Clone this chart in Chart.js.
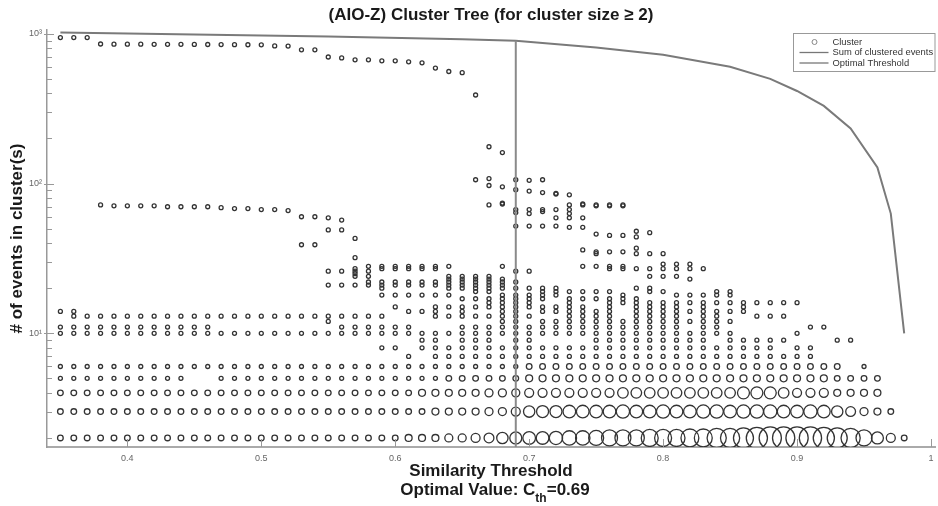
<!DOCTYPE html>
<html>
<head>
<meta charset="utf-8">
<title>Cluster Tree</title>
<script src="https://cdn.jsdelivr.net/npm/chart.js@4.4.1/dist/chart.umd.min.js"></script>
<style>
  html, body { margin: 0; padding: 0; background: #fff; }
  #box { width: 938px; height: 506px; }
</style>
</head>
<body>
<div id="box"><canvas id="treeChart"></canvas></div>
<script>
// similarity thresholds, one column of clusters each
const thresholds = [
  0.35, 0.36, 0.37, 0.38, 0.39, 0.40, 0.41, 0.42, 0.43, 0.44,
  0.45, 0.46, 0.47, 0.48, 0.49, 0.50, 0.51, 0.52, 0.53, 0.54,
  0.55, 0.56, 0.57, 0.58, 0.59, 0.60, 0.61, 0.62, 0.63, 0.64,
  0.65, 0.66, 0.67, 0.68, 0.69, 0.70, 0.71, 0.72, 0.73, 0.74,
  0.75, 0.76, 0.77, 0.78, 0.79, 0.80, 0.81, 0.82, 0.83, 0.84,
  0.85, 0.86, 0.87, 0.88, 0.89, 0.90, 0.91, 0.92, 0.93, 0.94,
  0.95, 0.96, 0.97, 0.98
];

// how many clusters of size 2..6 at each threshold (0 = none) -> marker size
const row2Count = [
  2, 2, 2, 2, 2, 2, 2, 2, 2, 2,
  2, 2, 2, 2, 2, 2, 2, 2, 2, 2,
  2, 2, 2, 2, 2, 2, 3, 3, 3, 4,
  4, 5, 6, 8, 9, 10, 10, 11, 13, 13,
  14, 16, 16, 16, 18, 18, 18, 20, 20, 23,
  23, 25, 28, 31, 31, 31, 31, 28, 25, 23,
  16, 9, 5, 2
];
const row3Count = [
  2, 2, 2, 2, 2, 2, 2, 2, 2, 2,
  2, 2, 2, 2, 2, 2, 2, 2, 2, 2,
  2, 2, 2, 2, 2, 2, 2, 2, 3, 3,
  3, 3, 4, 4, 5, 8, 9, 9, 10, 10,
  10, 10, 11, 10, 10, 11, 10, 10, 11, 11,
  10, 11, 11, 11, 10, 10, 11, 10, 8, 6,
  4, 3, 2, 0
];
const row4Count = [
  2, 2, 2, 2, 2, 2, 2, 2, 2, 2,
  2, 2, 2, 2, 2, 2, 2, 2, 2, 2,
  2, 2, 2, 2, 2, 2, 2, 3, 3, 3,
  3, 3, 4, 4, 4, 5, 5, 5, 5, 5,
  5, 5, 7, 7, 7, 7, 7, 7, 7, 7,
  7, 9, 9, 9, 7, 5, 5, 5, 3, 3,
  3, 3, 0, 0
];
const row5Count = [
  1, 1, 1, 1, 1, 1, 1, 1, 1, 1,
  0, 0, 1, 1, 1, 1, 1, 1, 1, 1,
  1, 1, 1, 1, 1, 1, 1, 1, 1, 2,
  2, 2, 2, 2, 2, 3, 3, 3, 3, 3,
  3, 3, 3, 3, 3, 3, 3, 3, 3, 3,
  3, 3, 3, 3, 3, 3, 3, 3, 2, 2,
  2, 2, 0, 0
];
const row6Count = [
  1, 1, 1, 1, 1, 1, 1, 1, 1, 1,
  1, 1, 1, 1, 1, 1, 1, 1, 1, 1,
  1, 1, 1, 1, 1, 1, 1, 1, 1, 1,
  1, 1, 1, 1, 1, 2, 2, 2, 2, 2,
  2, 2, 2, 2, 2, 2, 2, 2, 2, 2,
  2, 2, 2, 2, 2, 2, 2, 2, 2, 0,
  1, 0, 0, 0
];

// sizes of the bigger clusters (>= 7 events) at each threshold
const largerClusters = [
  [944, 14, 11, 10],
  [944, 14, 13, 11, 10],
  [944, 13, 11, 10],
  [855, 72, 13, 11, 10],
  [853, 71, 13, 11, 10],
  [853, 71, 13, 11, 10],
  [852, 71, 13, 11, 10],
  [851, 71, 13, 11, 10],
  [850, 70, 13, 11, 10],
  [850, 70, 13, 11, 10],
  [849, 70, 13, 11, 10],
  [848, 70, 13, 11, 10],
  [847, 69, 13, 10],
  [846, 68, 13, 10],
  [845, 68, 13, 10],
  [844, 67, 13, 10],
  [830, 67, 13, 10],
  [828, 66, 13, 10],
  [782, 60, 39, 13, 10],
  [782, 60, 39, 13, 10],
  [700, 59, 49, 26, 21, 13, 12, 10],
  [690, 57, 49, 26, 21, 13, 11, 10],
  [670, 43, 32, 27, 26, 25, 24, 21, 13, 11, 10],
  [670, 28, 26, 24, 22, 21, 13, 11, 10],
  [660, 28, 27, 22, 21, 20, 18, 13, 11, 10, 8],
  [660, 28, 27, 22, 21, 18, 15, 11, 10, 8],
  [650, 28, 27, 22, 21, 18, 14, 11, 10, 7],
  [640, 28, 27, 22, 21, 18, 14, 10, 9, 8],
  [590, 28, 27, 22, 21, 18, 15, 14, 13, 10, 9, 8, 7],
  [560, 28, 24, 23, 22, 21, 20, 18, 15, 13, 10, 8, 7],
  [550, 24, 23, 22, 21, 20, 17, 15, 14, 13, 11, 10, 9, 8, 7],
  [390, 106, 24, 23, 22, 21, 20, 19, 17, 15, 13, 11, 10, 9, 8, 7],
  [176, 108, 97, 72, 24, 23, 22, 21, 20, 19, 17, 16, 15, 13, 11, 10, 9, 8, 7],
  [161, 95, 74, 73, 28, 23, 22, 21, 20, 18, 17, 16, 15, 14, 13, 12, 11, 10, 8, 7],
  [106, 91, 67, 64, 52, 26, 22, 20, 18, 17, 16, 15, 14, 13, 12, 11, 10, 9, 8, 7],
  [105, 89, 67, 63, 52, 26, 20, 18, 17, 16, 15, 13, 11, 10, 9, 8, 7],
  [106, 87, 67, 65, 52, 20, 19, 18, 17, 15, 14, 12, 11, 10, 8, 7],
  [86, 85, 67, 59, 52, 20, 19, 18, 15, 14, 12, 11, 10, 8, 7],
  [84, 72, 67, 63, 59, 51, 19, 17, 16, 15, 14, 13, 12, 11, 10, 8, 7],
  [73, 72, 59, 51, 36, 28, 19, 17, 15, 14, 13, 12, 11, 10, 8, 7],
  [72, 71, 46, 35, 34, 28, 19, 17, 14, 13, 12, 11, 10, 9, 8, 7],
  [72, 71, 45, 35, 28, 27, 19, 17, 16, 15, 14, 13, 12, 11, 10, 9, 8, 7],
  [72, 71, 45, 35, 28, 27, 18, 17, 16, 12, 11, 10, 9, 8, 7],
  [48, 44, 37, 34, 27, 20, 17, 16, 15, 14, 13, 12, 11, 10, 9, 8, 7],
  [47, 34, 27, 24, 20, 19, 16, 15, 14, 13, 12, 11, 10, 9, 8, 7],
  [34, 29, 27, 24, 19, 16, 15, 14, 13, 12, 11, 10, 9, 8, 7],
  [29, 27, 24, 18, 16, 15, 14, 13, 12, 11, 10, 9, 8, 7],
  [29, 27, 23, 18, 16, 14, 12, 10, 9, 8, 7],
  [27, 18, 16, 15, 14, 13, 12, 11, 10, 9, 8, 7],
  [19, 18, 16, 14, 13, 12, 11, 10, 8, 7],
  [19, 18, 16, 14, 12, 10, 9, 8, 7],
  [16, 15, 14, 9, 8, 7],
  [16, 13, 9, 8, 7],
  [16, 13, 9, 8, 7],
  [16, 13, 9, 7],
  [16, 10, 8, 7],
  [11, 8, 7],
  [11],
  [9],
  [9],
  [], [], [], []
];

// total number of clustered events
const sumThresholds = [0.35, 0.45, 0.55, 0.65, 0.69, 0.75, 0.80, 0.85, 0.88, 0.90, 0.92, 0.94, 0.96, 0.97, 0.98];
const sumEvents = [1020, 990, 960, 920, 898, 810, 725, 603, 500, 415, 330, 233, 128, 63, 10];

const optimalThreshold = 0.69;
const xTicks = [0.4, 0.5, 0.6, 0.7, 0.8, 0.9, 1];
const yLabels = { 10: '10¹', 100: '10²', 1000: '10³' };
const yMin = 1.74, yMax = 1060;

const smallSizes = [2, 3, 4, 5, 6];
const smallCounts = [row2Count, row3Count, row4Count, row5Count, row6Count];

const clusterPoints = [];
thresholds.forEach((t, i) => {
  smallSizes.forEach((s, k) => {
    const n = smallCounts[k][i];
    if (n > 0) clusterPoints.push({ x: t, y: s, n: n });
  });
  largerClusters[i].forEach(s => clusterPoints.push({ x: t, y: s, n: 1 }));
});

const sumPoints = sumThresholds.map((t, i) => ({ x: t, y: sumEvents[i] }));
const optimalSum = sumEvents[sumThresholds.indexOf(optimalThreshold)];
const optimalPoints = [{ x: optimalThreshold, y: yMin }, { x: optimalThreshold, y: optimalSum }];

// ticks drawn inside the axes, matlab style
const inwardTicks = {
  id: 'inwardTicks',
  afterDraw(chart) {
    const c = chart.ctx, a = chart.chartArea;
    const xs = chart.scales.x, ys = chart.scales.y;
    c.save();
    c.strokeStyle = '#999';
    c.lineWidth = 1;
    c.beginPath();
    [1, 10, 100, 1000].forEach(d => {
      for (let k = 1; k <= 9; k++) {
        const v = k * d;
        if (v < yMin || v > yMax) continue;
        const y = Math.round(ys.getPixelForValue(v)) + 0.5;
        c.moveTo(k === 1 ? a.left - 3 : a.left, y);
        c.lineTo(a.left + (k === 1 ? 7 : 5), y);
      }
    });
    xTicks.forEach(v => {
      const x = Math.round(xs.getPixelForValue(v)) + 0.5;
      c.moveTo(x, a.bottom);
      c.lineTo(x, a.bottom - 8);
    });
    c.stroke();
    c.restore();
  }
};

// second line under the x axis title, with the subscript
const optimalNote = {
  id: 'optimalNote',
  afterDraw(chart) {
    const c = chart.ctx, a = chart.chartArea;
    const big = 'bold 17px Arial', small = 'bold 12px Arial';
    const p1 = 'Optimal Value: C', p2 = 'th', p3 = '=' + optimalThreshold.toFixed(2);
    c.save();
    c.fillStyle = '#1a1a1a';
    c.textBaseline = 'alphabetic';
    c.font = big; const w1 = c.measureText(p1).width, w3 = c.measureText(p3).width;
    c.font = small; const w2 = c.measureText(p2).width;
    let x = (a.left + a.right) / 2 + 4 - (w1 + w2 + w3) / 2;
    const y = 495;
    c.font = big; c.fillText(p1, x, y); x += w1;
    c.font = small; c.fillText(p2, x, y + 7); x += w2;
    c.font = big; c.fillText(p3, x, y);
    c.restore();
  }
};

// boxed legend in the upper right corner of the plot
const boxLegend = {
  id: 'boxLegend',
  afterDraw(chart) {
    const c = chart.ctx, a = chart.chartArea;
    const ds = chart.data.datasets;
    const left = 793.5, top = 33.5, w = a.right - left, h = 38;
    c.save();
    c.fillStyle = '#fff';
    c.fillRect(left, top, w, h);
    c.strokeStyle = '#999';
    c.lineWidth = 1;
    c.strokeRect(left, top, w, h);
    c.font = '9.4px Arial';
    c.textBaseline = 'middle';
    ds.forEach((d, i) => {
      const y = top + 8.5 + i * 10.5;
      if (i === 0) {
        c.beginPath();
        c.arc(left + 21, y, 2.5, 0, Math.PI * 2);
        c.strokeStyle = '#888';
        c.stroke();
      } else {
        c.beginPath();
        c.moveTo(left + 6, y);
        c.lineTo(left + 35, y);
        c.strokeStyle = '#777';
        c.lineWidth = 1.3;
        c.stroke();
      }
      c.fillStyle = '#333';
      c.fillText(d.label, left + 39, y);
    });
    c.restore();
  }
};

new Chart(document.getElementById('treeChart'), {
  type: 'scatter',
  data: {
    datasets: [
      {
        label: 'Cluster',
        data: clusterPoints,
        backgroundColor: 'rgba(0,0,0,0)',
        borderColor: '#333',
        borderWidth: 1.3,
        pointRadius: ctx => 2 * Math.sqrt(ctx.raw ? ctx.raw.n : 1),
        order: 3
      },
      {
        label: 'Sum of clustered events',
        data: sumPoints,
        showLine: true,
        borderColor: '#7a7a7a',
        borderWidth: 2,
        pointRadius: 0,
        order: 2
      },
      {
        label: 'Optimal Threshold',
        data: optimalPoints,
        showLine: true,
        borderColor: '#8a8a8a',
        borderWidth: 2,
        pointRadius: 0,
        order: 1
      }
    ]
  },
  options: {
    responsive: true,
    maintainAspectRatio: false,
    animation: false,
    layout: { autoPadding: false, padding: { left: 0, right: 3, top: 0, bottom: 0 } },
    plugins: {
      legend: { display: false },
      tooltip: { enabled: false },
      title: {
        display: true,
        fullSize: false,
        text: '(AIO-Z) Cluster Tree (for cluster size \u2265 2)',
        color: '#1a1a1a',
        font: { family: 'Arial', size: 17, weight: 'bold' },
        padding: { top: 5, bottom: 4.6 }
      }
    },
    scales: {
      x: {
        type: 'linear',
        min: 0.34,
        max: 1.003,
        afterBuildTicks: s => { s.ticks = xTicks.map(v => ({ value: v })); },
        afterFit: s => { s.height = 59; s.paddingLeft = 0; s.paddingRight = 0; },
        grid: { display: false, drawTicks: false },
        border: { color: '#aaa', width: 2 },
        ticks: {
          padding: 6,
          color: '#666',
          font: { family: 'Arial', size: 9 },
          callback: v => (v === 1 ? '1' : v.toFixed(1))
        },
        title: {
          display: true,
          text: 'Similarity Threshold',
          color: '#1a1a1a',
          font: { family: 'Arial', size: 17, weight: 'bold' },
          padding: { top: 0, bottom: 24 }
        }
      },
      y: {
        type: 'logarithmic',
        min: yMin,
        max: yMax,
        afterBuildTicks: s => { s.ticks = Object.keys(yLabels).map(v => ({ value: +v })); },
        afterFit: s => { s.width = 47; s.paddingTop = 0; s.paddingBottom = 0; },
        grid: { display: false, drawTicks: false },
        border: { color: '#999', width: 1.5 },
        ticks: {
          padding: 5,
          color: '#666',
          font: { family: 'Arial', size: 9 },
          callback: v => yLabels[v] || ''
        },
        title: {
          display: true,
          text: '# of events in cluster(s)',
          color: '#1a1a1a',
          font: { family: 'Arial', size: 17, weight: 'bold' },
          padding: { top: 6.8, bottom: 0 }
        }
      }
    }
  },
  plugins: [inwardTicks, optimalNote, boxLegend]
});
</script>
</body>
</html>
